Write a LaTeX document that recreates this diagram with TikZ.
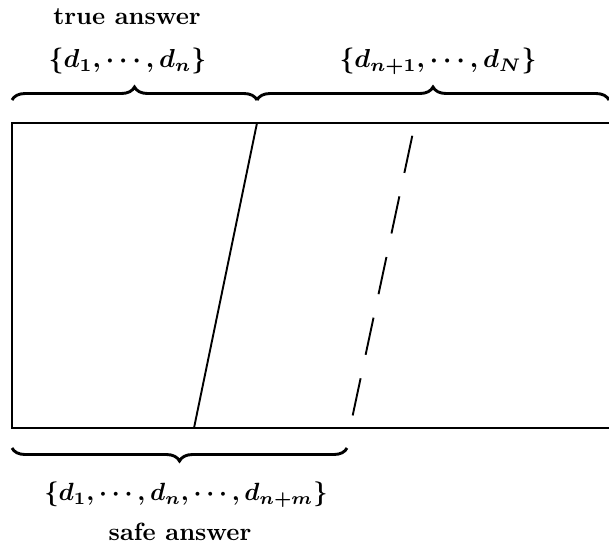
\documentclass[tikz,border=0pt]{standalone}
\usetikzlibrary{decorations.pathreplacing}
\begin{document}
\begin{tikzpicture}[x=1pt,y=-1pt,
  lbl/.style={inner sep=0pt,scale=2.49,font=\bfseries\boldmath},
  mlbl/.style={lbl,scale=1.045},
  edge/.style={line width=1.9pt},
  bracepath/.style={line width=2.9pt,decorate,decoration={brace,amplitude=13pt}}]
\useasboundingbox (0,0) rectangle (609,550);
% box
\coordinate (tl) at (12,123);
\coordinate (bl) at (12,428);
\coordinate (tr) at (609,123);
\coordinate (br) at (609,428);
\draw[edge] (tr) -- (tl) -- (bl) -- (br);
% split lines
\coordinate (s1) at (257,123);
\coordinate (s2) at (194,428);
\draw[edge] (s1) -- (s2);
\coordinate (d1) at (415,123);
\coordinate (d2) at (350,428);
\draw[edge,dash pattern=on 38pt off 24pt,dash phase=49pt] (d1) -- (d2);
% top braces
\coordinate (b1a) at (12,100);
\coordinate (b1b) at (257,100);
\coordinate (b2b) at (609,100);
\draw[bracepath] (b1a) -- (b1b);
\draw[bracepath] (b1b) -- (b2b);
% bottom brace
\coordinate (b3a) at (347,448);
\coordinate (b3b) at (12,448);
\draw[bracepath] (b3a) -- (b3b);
% labels
\node[lbl] (ta) at (127,17) {true answer};
\node[mlbl] (s1l) at (127.5,61) {$\{d_1,\cdots,d_n\}$};
\node[mlbl] (s2l) at (438,61) {$\{d_{n+1},\cdots,d_N\}$};
\node[lbl] (s3l) at (186,495) {$\{d_1,\cdots,d_n,\cdots,d_{n+m}\}$};
\node[lbl] (sa) at (180,532) {safe answer};
\end{tikzpicture}
\end{document}
